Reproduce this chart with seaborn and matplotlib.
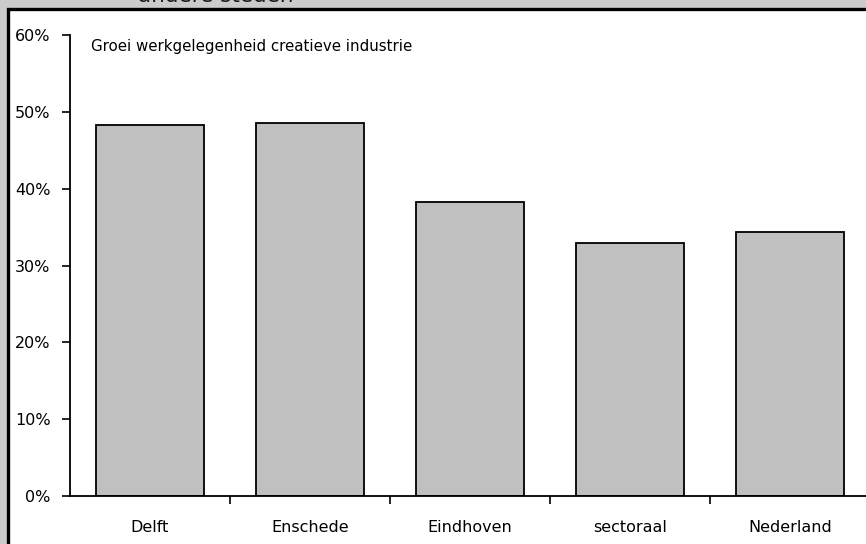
import matplotlib
matplotlib.use("Agg")
import matplotlib.pyplot as plt
from matplotlib.patches import Rectangle
from matplotlib.ticker import FixedLocator, PercentFormatter
import seaborn as sns
import pandas as pd

# Growth of employment in the creative industry, per city / reference
categories = ["Delft", "Enschede", "Eindhoven", "sectoraal", "Nederland"]
growth_pct = [48.3, 48.5, 38.3, 32.9, 34.4]
y_ticks = [0, 10, 20, 30, 40, 50, 60]

sns.set_theme(style="white")
plt.rcParams["font.family"] = ["DejaVu Sans"]

W, H = 866, 544
fig = plt.figure(figsize=(W / 100, H / 100), dpi=100)
fig.patch.set_facecolor("#cbcbcb")

# white panel with a heavy black frame (runs past the right/bottom edge)
panel = Rectangle((8 / W, -0.05), 1.2, 1 - 8.5 / H + 0.05,
                  transform=fig.transFigure, facecolor="white",
                  edgecolor="black", linewidth=2.4, zorder=-10)
fig.add_artist(panel)

fig.text(138 / W, 1 - 2 / H, "andere steden", fontsize=15.5, color="#1a1a1a",
         ha="left", va="baseline", zorder=-5)

ax = fig.add_axes([70 / W, (H - 496) / H, 800 / W, (496 - 35) / H])
ax.set_facecolor("none")
ax.set_zorder(1)

df = pd.DataFrame({"categorie": categories, "groei": growth_pct})
sns.barplot(data=df, x="categorie", y="groei", ax=ax, color="#c0c0c0",
            saturation=1, width=0.675, edgecolor="black", linewidth=1.3)

ax.set_xlim(-0.5, len(categories) - 0.5)
ax.set_ylim(0, 60)
ax.set_yticks(y_ticks)
ax.yaxis.set_major_formatter(PercentFormatter(decimals=0))
ax.set_xlabel("")
ax.set_ylabel("")

ax.xaxis.set_minor_locator(FixedLocator([i + 0.5 for i in range(len(categories) - 1)]))
ax.tick_params(axis="x", which="major", length=0, pad=17, labelsize=11.5,
               labelcolor="black")
ax.tick_params(axis="x", which="minor", bottom=True, length=6, width=1.2,
               direction="out", color="black")
ax.tick_params(axis="y", which="major", left=True, length=6, width=1.2,
               direction="out", color="black", pad=8, labelsize=11.5,
               labelcolor="black")

for side in ("top", "right"):
    ax.spines[side].set_visible(False)
for side in ("left", "bottom"):
    ax.spines[side].set_color("black")
    ax.spines[side].set_linewidth(1.3)

ax.text(91 / W, 1 - 46 / H, "Groei werkgelegenheid creatieve industrie",
        transform=fig.transFigure, fontsize=10.8, color="black",
        ha="left", va="center")

fig.savefig("out.png", dpi=100, facecolor=fig.get_facecolor())
